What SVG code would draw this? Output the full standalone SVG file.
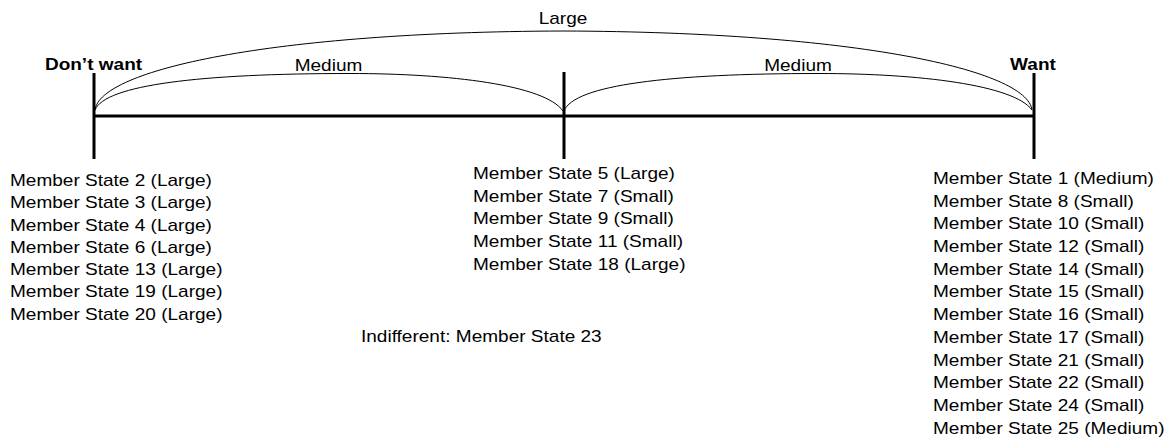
<svg xmlns="http://www.w3.org/2000/svg" width="1169" height="439" viewBox="0 0 1169 439">
  <style>
    text { font-family: "Liberation Sans", Arial, sans-serif; font-size: 17px; fill: #000; }
    .bold { font-weight: bold; }
    .mid { text-anchor: middle; }
    .axis { stroke: #000; stroke-width: 3; fill: none; }
    .arc { stroke: #000; stroke-width: 1; fill: none; }
  </style>
  <rect width="1169" height="439" fill="#fff"/>

  <!-- scale axis with three ticks -->
  <g id="axis">
    <line class="axis" x1="94" y1="116" x2="1034" y2="116"/>
    <line class="axis" x1="94" y1="73" x2="94" y2="159"/>
    <line class="axis" x1="564" y1="72" x2="564" y2="159"/>
    <line class="axis" x1="1034" y1="73" x2="1034" y2="159"/>
  </g>

  <!-- distance arcs -->
  <g id="connectors">
    <path class="arc" d="M95,110 C100,70 270,32 563,31 C856,32 1027,70 1032,110"/>
    <path class="arc" d="M95,110 C105,85 200,73.5 350,73.5 C450,73.5 545,85 563,111"/>
    <path class="arc" d="M564,111 C574,85 669,73.5 819,73.5 C919,73.5 1014,85 1032,110"/>
  </g>

  <g transform="scale(1.12 1)">
    <g id="labels">
      <text class="mid" x="502.7" y="24">Large</text>
      <text class="mid" x="293.3" y="71">Medium</text>
      <text class="mid" x="712.5" y="71">Medium</text>
      <text class="mid bold" x="83.5" y="70.5">Don’t want</text>
      <text class="mid bold" x="922.3" y="70.5">Want</text>
    </g>

    <g id="dont-want">
      <text x="8.93" y="186">Member State 2 (Large)</text>
      <text x="8.93" y="208.3">Member State 3 (Large)</text>
      <text x="8.93" y="230.6">Member State 4 (Large)</text>
      <text x="8.93" y="252.9">Member State 6 (Large)</text>
      <text x="8.93" y="275.2">Member State 13 (Large)</text>
      <text x="8.93" y="297.5">Member State 19 (Large)</text>
      <text x="8.93" y="319.8">Member State 20 (Large)</text>
    </g>

    <g id="middle">
      <text x="422.3" y="179">Member State 5 (Large)</text>
      <text x="422.3" y="201.7">Member State 7 (Small)</text>
      <text x="422.3" y="224.4">Member State 9 (Small)</text>
      <text x="422.3" y="247.1">Member State 11 (Small)</text>
      <text x="422.3" y="269.8">Member State 18 (Large)</text>
    </g>

    <g id="indifferent">
      <text x="322.3" y="342">Indifferent: Member State 23</text>
    </g>

    <g id="want">
      <text x="833" y="184">Member State 1 (Medium)</text>
      <text x="833" y="206.7">Member State 8 (Small)</text>
      <text x="833" y="229.4">Member State 10 (Small)</text>
      <text x="833" y="252.1">Member State 12 (Small)</text>
      <text x="833" y="274.8">Member State 14 (Small)</text>
      <text x="833" y="297.5">Member State 15 (Small)</text>
      <text x="833" y="320.2">Member State 16 (Small)</text>
      <text x="833" y="342.9">Member State 17 (Small)</text>
      <text x="833" y="365.6">Member State 21 (Small)</text>
      <text x="833" y="388.3">Member State 22 (Small)</text>
      <text x="833" y="411">Member State 24 (Small)</text>
      <text x="833" y="433.7">Member State 25 (Medium)</text>
    </g>
  </g>
</svg>
